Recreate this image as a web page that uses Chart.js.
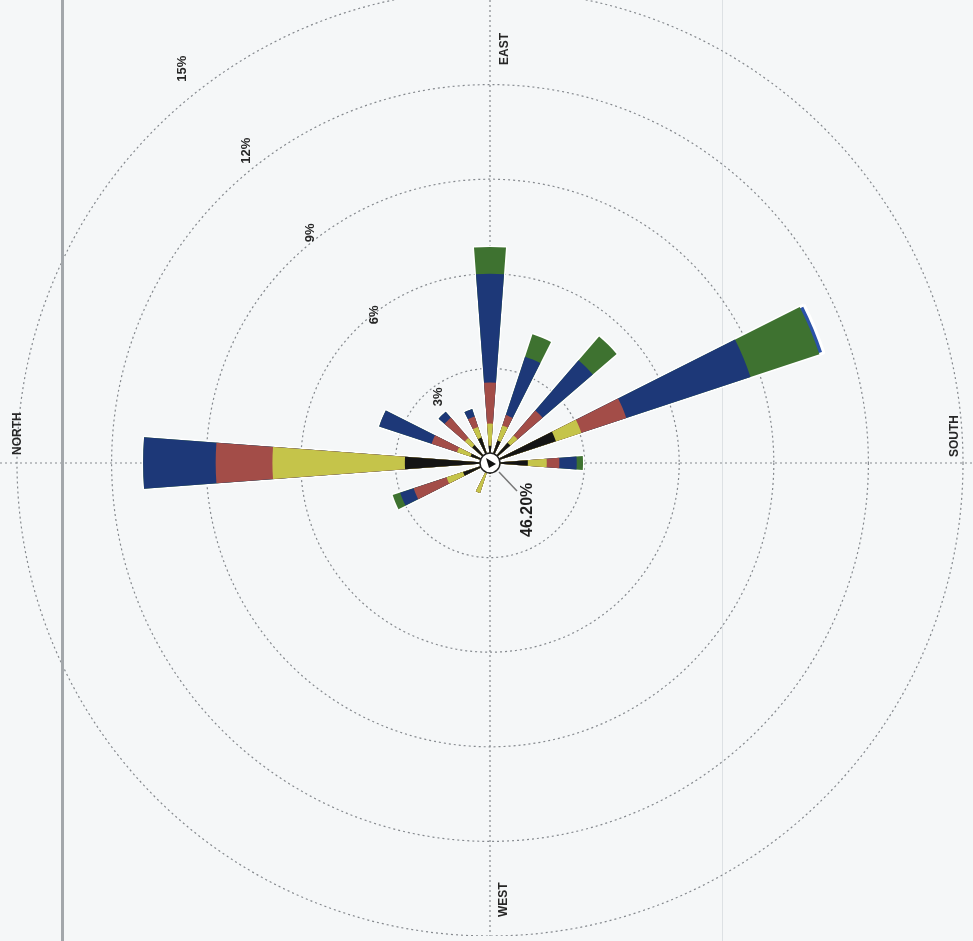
<!DOCTYPE html>
<html>
<head>
<meta charset="utf-8">
<script src="https://cdn.jsdelivr.net/npm/chart.js@4.4.1/dist/chart.umd.min.js"></script>
<style>
  html, body { margin: 0; padding: 0; width: 973px; height: 941px; overflow: hidden; background: #f5f7f8; }
  #wrap { position: relative; width: 973px; height: 941px; overflow: hidden; }
  #c { position: absolute; left: 0; top: -10px; }
  .edge { position: absolute; top: 0; bottom: 0; left: 61px; width: 3px; background: #a3a7ab; }
  .edge2 { position: absolute; top: 0; bottom: 0; left: 722px; width: 1px; background: #dde1e4; }
</style>
</head>
<body>
<div id="wrap">
  <div class="edge2"></div>
  <canvas id="c" width="973" height="946"></canvas>
  <div class="edge"></div>
</div>
<script>
// wind rose, page scanned sideways: North sits on the left
const directions = ['N', 'NNE', 'NE', 'ENE', 'E', 'ESE', 'SE', 'SSE', 'S', 'SSW', 'SW', 'WSW', 'W', 'WNW', 'NW', 'NNW'];
// frequency (%) of each speed band per direction, innermost band first
const band1 = [2.7, 0.65, 0.75, 0.85, 0.55, 0.75, 0.85, 2.2, 1.2, 0, 0, 0, 0.35, 0.3, 0, 0.9];
const band2 = [4.2, 0.45, 0.3, 0.35, 0.7, 0.5, 0.3, 0.85, 0.6, 0, 0, 0, 0, 0.7, 0, 0.55];
const band3 = [1.8, 0.85, 0.85, 0.35, 1.3, 0.35, 1.05, 1.5, 0.4, 0, 0, 0, 0, 0, 0, 1.1];
const band4 = [2.3, 1.75, 0.25, 0.25, 3.45, 1.95, 2.1, 4.15, 0.55, 0, 0, 0, 0, 0, 0, 0.45];
const band5 = [0, 0, 0, 0, 0.85, 0.75, 1.0, 2.3, 0.2, 0, 0, 0, 0, 0, 0, 0.25];
const band6 = [0, 0, 0, 0, 0, 0, 0, 0.15, 0, 0, 0, 0, 0, 0, 0, 0];
const bandColors = ['#151515', '#c5c44a', '#a34d48', '#1d3878', '#3e7230', '#2b52a8'];
const calmPercent = 46.20;
const ringTicks = [3, 6, 9, 12, 15];
const compassLabels = ['NORTH', 'EAST', 'SOUTH', 'WEST'];

const petalWidth = 8.5; // degrees

const bands = [band1, band2, band3, band4, band5, band6];
const labels = [];
directions.forEach(d => { labels.push(d); labels.push(''); });

// stack the bands: each dataset is drawn from the centre, smaller ones on top
let running = directions.map(() => 0);
const datasets = bands.map((band, b) => {
  running = running.map((v, i) => v + band[i]);
  const data = [];
  running.forEach(v => { data.push(v); data.push(0); });
  return {
    label: 'Band ' + (b + 1),
    data: data,
    backgroundColor: bandColors[b],
    borderColor: '#ffffff',
    borderWidth: b === bands.length - 1 ? 3 : 0,
    angle: ctx => ctx.dataIndex % 2 === 0 ? petalWidth : 22.5 - petalWidth
  };
});

function rotatedText(ctx, text, x, y, align) {
  ctx.save();
  ctx.translate(x, y);
  ctx.rotate(-Math.PI / 2);
  ctx.textAlign = align;
  ctx.textBaseline = 'middle';
  ctx.fillText(text, 0, 0);
  ctx.restore();
}

const roseDecor = {
  id: 'roseDecor',
  beforeDatasetsDraw(chart) {
    const s = chart.scales.r, ctx = chart.ctx;
    ctx.save();
    ctx.strokeStyle = '#85898e';
    ctx.lineWidth = 1.2;
    ctx.setLineDash([2, 3]);
    ctx.beginPath();
    ctx.moveTo(0, s.yCenter); ctx.lineTo(chart.width, s.yCenter);
    ctx.moveTo(s.xCenter, 0); ctx.lineTo(s.xCenter, chart.height);
    ctx.stroke();
    ctx.restore();
  },
  afterDatasetsDraw(chart) {
    const s = chart.scales.r, ctx = chart.ctx;
    const xC = s.xCenter, yC = s.yCenter;
    ctx.save();

    // ring labels along a slanted line
    ctx.fillStyle = '#262626';
    ctx.font = 'bold 13px "Liberation Sans", Arial, sans-serif';
    const a = 38 * Math.PI / 180;
    ringTicks.forEach(v => {
      const d = 1.1 * s.getDistanceFromCenterForValue(v) - 20;
      rotatedText(ctx, v + '%', xC - d * Math.sin(a), yC - d * Math.cos(a), 'center');
    });

    // compass names
    ctx.font = 'bold 12px "Liberation Sans", Arial, sans-serif';
    rotatedText(ctx, compassLabels[0], 18, yC - 8, 'left');
    rotatedText(ctx, compassLabels[1], xC + 15, yC - 398, 'left');
    rotatedText(ctx, compassLabels[2], 955, yC - 6, 'left');
    rotatedText(ctx, compassLabels[3], xC + 14, yC + 454, 'left');

    // calm circle
    ctx.beginPath();
    ctx.arc(xC, yC, 10, 0, Math.PI * 2);
    ctx.fillStyle = '#ffffff';
    ctx.fill();
    ctx.lineWidth = 1.5;
    ctx.strokeStyle = '#222';
    ctx.stroke();
    ctx.beginPath();
    ctx.moveTo(xC - 4, yC - 5);
    ctx.lineTo(xC + 6, yC + 1);
    ctx.lineTo(xC - 1, yC + 5);
    ctx.closePath();
    ctx.fillStyle = '#111';
    ctx.fill();

    // leader + calm value
    ctx.beginPath();
    ctx.moveTo(xC + 9, yC + 9);
    ctx.lineTo(xC + 27, yC + 28);
    ctx.strokeStyle = '#777';
    ctx.lineWidth = 1.5;
    ctx.stroke();
    ctx.fillStyle = '#1e1e1e';
    ctx.font = 'bold 16px "Liberation Sans", Arial, sans-serif';
    rotatedText(ctx, calmPercent.toFixed(2) + '%', xC + 38, yC + 74, 'left');
    ctx.restore();
  }
};

new Chart(document.getElementById('c'), {
  type: 'polarArea',
  data: { labels: labels, datasets: datasets },
  options: {
    responsive: false,
    animation: false,
    layout: { padding: { left: 7, right: 0, top: 0, bottom: 0 } },
    plugins: { legend: { display: false }, tooltip: { enabled: false } },
    scales: {
      r: {
        min: 0,
        max: 15,
        startAngle: -90 - petalWidth / 2,
        ticks: { display: false, stepSize: 3 },
        grid: { circular: true, color: '#85898e', lineWidth: 1.2 },
        border: { dash: [2, 3] },
        angleLines: { display: false },
        pointLabels: { display: false }
      }
    }
  },
  plugins: [roseDecor]
});
</script>
</body>
</html>
